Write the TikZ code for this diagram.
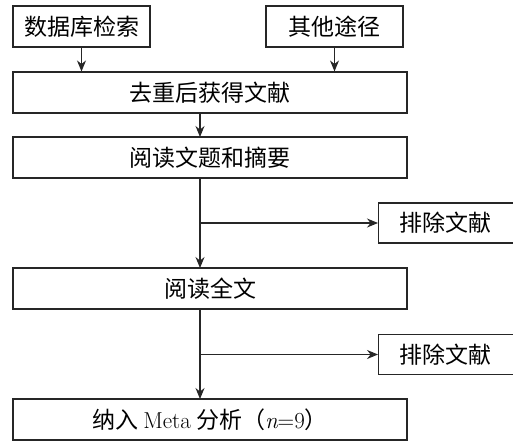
\documentclass[tikz,border=0pt]{standalone}
\usepackage{fontspec}
\newfontfamily\cjk{Noto Sans CJK SC}
\usetikzlibrary{arrows.meta}
\begin{document}
\begin{tikzpicture}[x=1pt,y=-1pt,
  box/.style={draw=black!85,line width=1.1pt,rectangle,inner sep=0pt,font=\fontsize{23}{26}\selectfont\cjk},
  arr/.style={draw=black!85,line width=1.1pt,-{Stealth[length=11pt,width=9pt]}},
  ln/.style={draw=black!85,line width=1.1pt}]
\useasboundingbox (0,0) rectangle (513,441);
\node[box,minimum width=137pt,minimum height=41pt] (db) at (81.5,26.5) {数据库检索};
\node[box,minimum width=137pt,minimum height=41pt] (ot) at (334.5,26.5) {其他途径};
\node[box,minimum width=394pt,minimum height=41pt] (dd) at (210,92.5) {去重后获得文献};
\node[box,minimum width=394pt,minimum height=41pt] (rt) at (210,157.5) {阅读文题和摘要};
\node[box,minimum width=140pt,minimum height=40pt,anchor=west] (ex1) at (378,223) {\hspace*{-6pt}排除文献};
\node[box,minimum width=394pt,minimum height=41pt] (rf) at (210,288.5) {阅读全文};
\node[box,minimum width=140pt,minimum height=40pt,anchor=west] (ex2) at (378,354.5) {\hspace*{-6pt}排除文献};
\node[box,minimum width=394pt,minimum height=41pt] (mt) at (210,419.5) {纳入 {\rmfamily Meta} 分析（{\rmfamily\itshape n}{\rmfamily =9}）};
\draw[arr] (db.south) -- (db.south |- dd.north);
\draw[arr] (ot.south) -- (ot.south |- dd.north);
\draw[arr] (200,113) coordinate (a1) -- (200,137);
\coordinate (c1) at (200,178);
\coordinate (b1) at (200,223);
\draw[arr] (c1) -- (200,268);
\draw[arr] (b1) -- (ex1.west);
\coordinate (c2) at (200,309);
\coordinate (b2) at (200,354.5);
\draw[arr] (c2) -- (200,399);
\draw[arr] (b2) -- (ex2.west);
\end{tikzpicture}
\end{document}
